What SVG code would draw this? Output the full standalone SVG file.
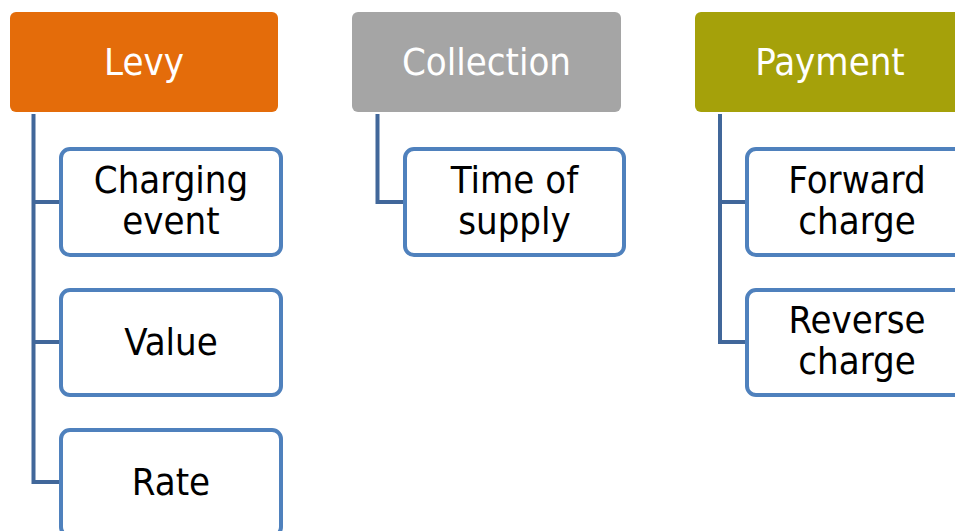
<svg xmlns="http://www.w3.org/2000/svg" width="955" height="531" viewBox="0 0 955 531">
<style>
.hdr{stroke:none}
.child{fill:#ffffff;stroke:#4F81BD;stroke-width:4}
.conn{fill:none;stroke:#41679A;stroke-width:4}
text{font-family:"DejaVu Sans Condensed","DejaVu Sans",sans-serif;font-size:38px;text-anchor:middle}
.ht{fill:#ffffff}
.ct{fill:#000000}
</style>
<rect width="955" height="531" fill="#ffffff"/>
<g id="connectors">
<path class="conn" d="M33.5,114 V482 H61 M33.5,202 H61 M33.5,342 H61"/>
<path class="conn" d="M377.5,114 V202 H405"/>
<path class="conn" d="M720,114 V342 H747 M720,202 H747"/>
</g>
<g id="levy">
<rect class="hdr" x="10" y="12" width="268" height="100" rx="6" fill="#E46C0A"/>
<text class="ht" x="144" y="75">Levy</text>
</g>
<g id="collection">
<rect class="hdr" x="352" y="12" width="269" height="100" rx="6" fill="#A5A5A5"/>
<text class="ht" x="486.5" y="75">Collection</text>
</g>
<g id="payment">
<rect class="hdr" x="695" y="12" width="268" height="100" rx="6" fill="#A5A10A"/>
<text class="ht" x="830" y="75">Payment</text>
</g>
<g id="charging-event">
<rect class="child" x="61" y="149" width="220" height="106" rx="9"/>
<text class="ct" x="171" y="193">Charging</text>
<text class="ct" x="171" y="234">event</text>
</g>
<g id="value">
<rect class="child" x="61" y="290" width="220" height="105" rx="9"/>
<text class="ct" x="171" y="355">Value</text>
</g>
<g id="rate">
<rect class="child" x="61" y="430" width="220" height="106" rx="9"/>
<text class="ct" x="171" y="495">Rate</text>
</g>
<g id="time-of-supply">
<rect class="child" x="405" y="149" width="219" height="106" rx="9"/>
<text class="ct" x="514.5" y="193">Time of</text>
<text class="ct" x="514.5" y="234">supply</text>
</g>
<g id="forward-charge">
<rect class="child" x="747" y="149" width="222" height="106" rx="9"/>
<text class="ct" x="857" y="193">Forward</text>
<text class="ct" x="857" y="234">charge</text>
</g>
<g id="reverse-charge">
<rect class="child" x="747" y="290" width="222" height="105" rx="9"/>
<text class="ct" x="857" y="333">Reverse</text>
<text class="ct" x="857" y="374">charge</text>
</g>
</svg>
